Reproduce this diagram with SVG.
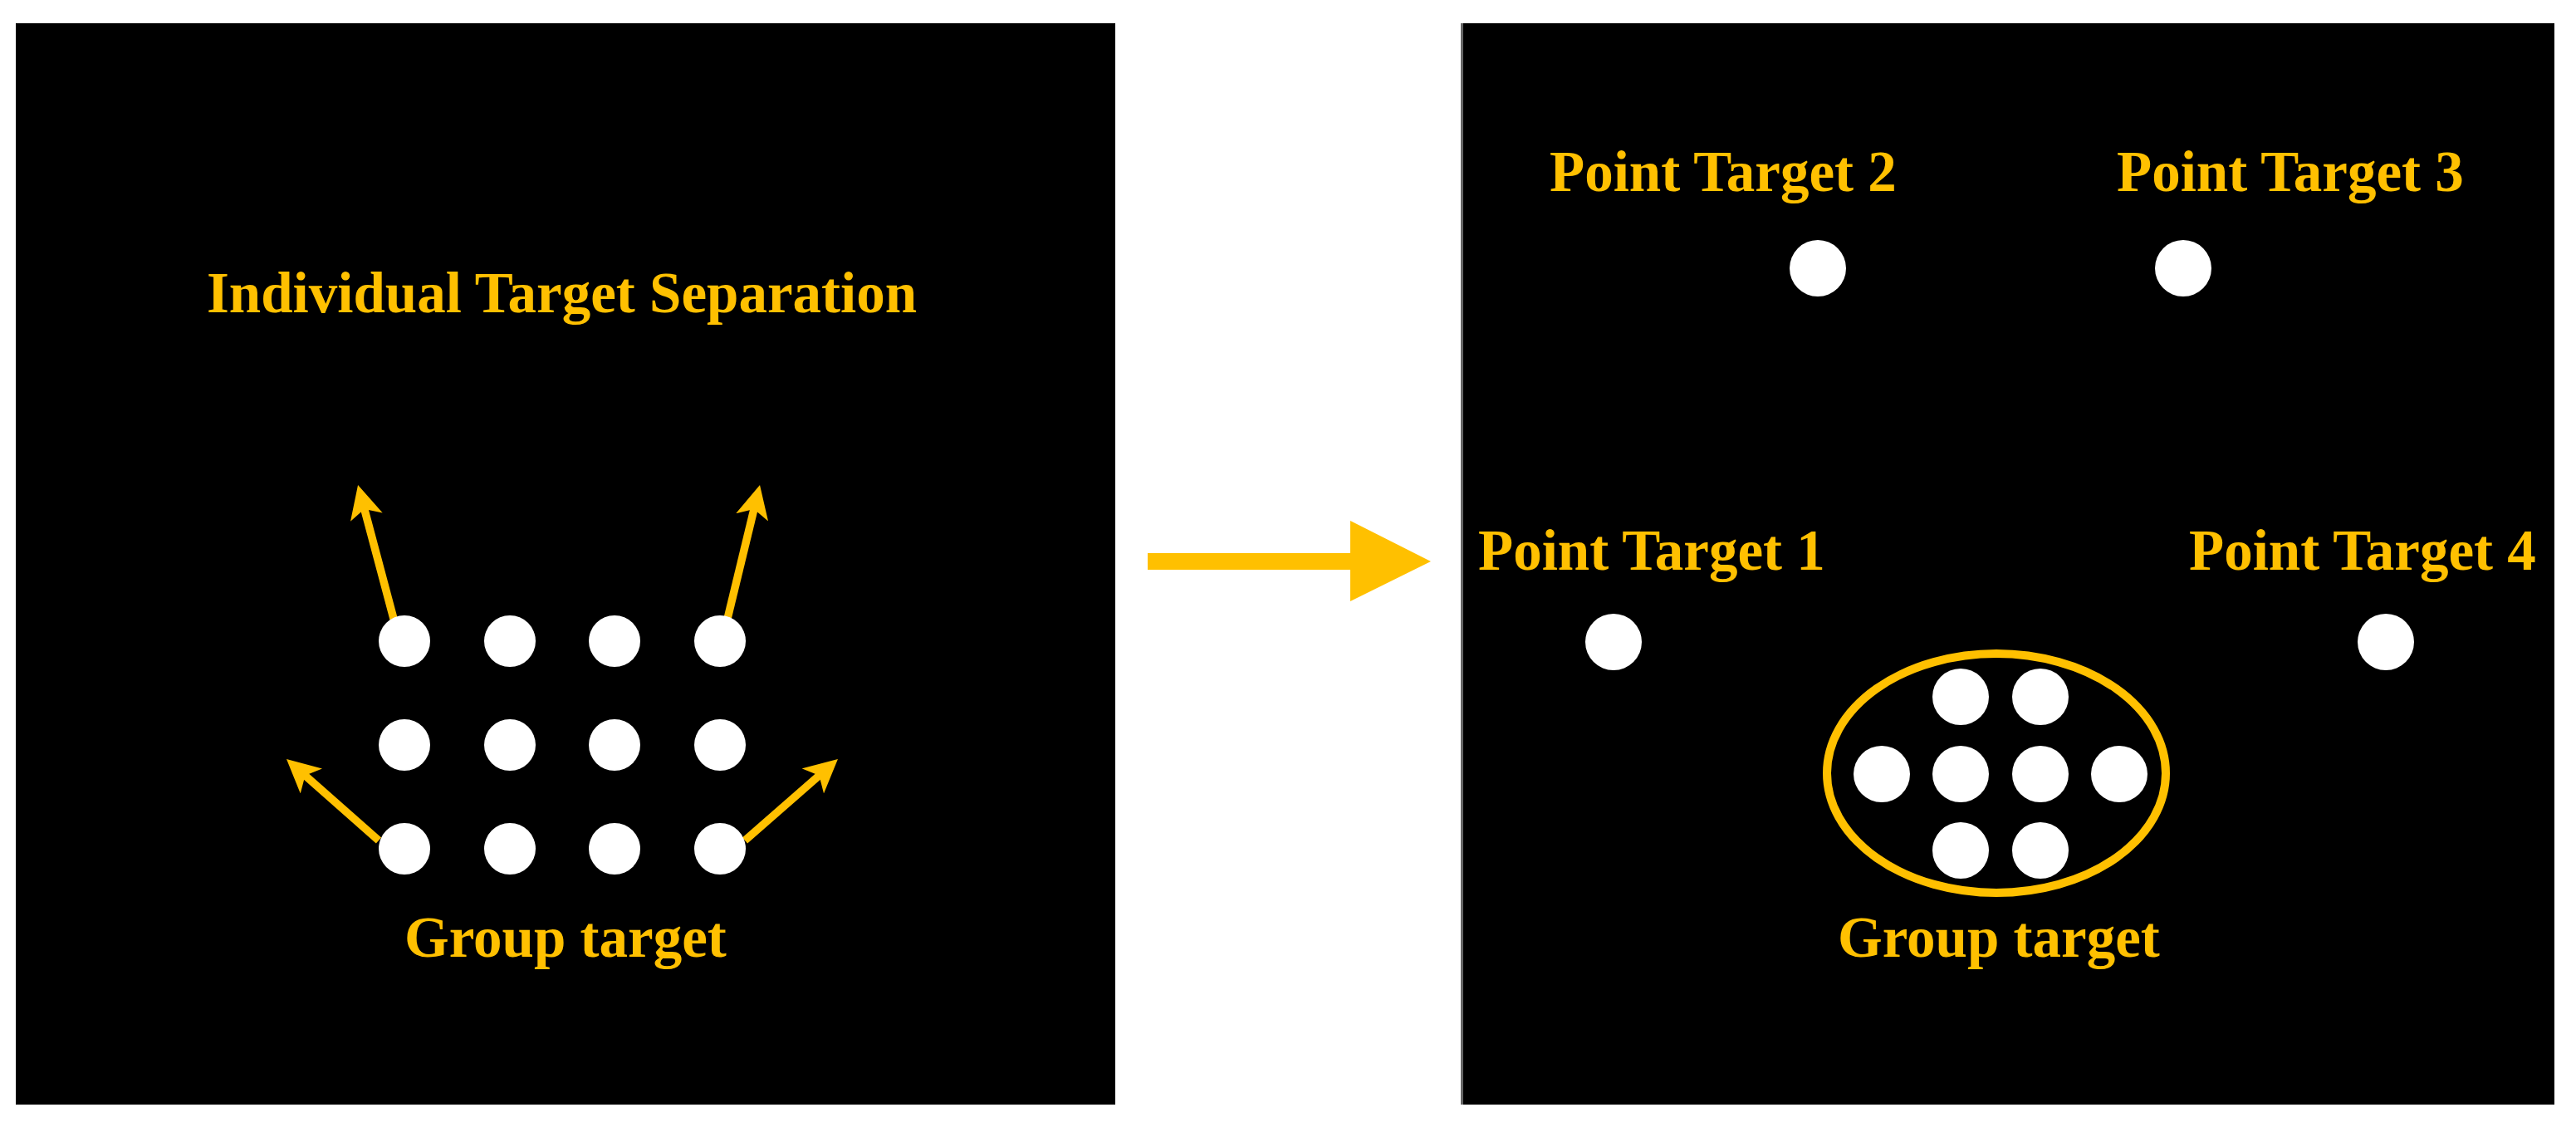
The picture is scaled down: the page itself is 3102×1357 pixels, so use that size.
<svg xmlns="http://www.w3.org/2000/svg" width="3102" height="1357" viewBox="0 0 3102 1357">
  <style>
    .panel { fill: #000000; }
    .dot { fill: #ffffff; }
    .lbl { font-family: "Liberation Serif", "Times New Roman", serif; font-weight: bold; font-size: 69px; fill: #FFC000; }
    .conn { stroke: #FFC000; stroke-width: 9.5; fill: none; }
  </style>
  <defs>
    <marker id="ah" markerUnits="userSpaceOnUse" viewBox="0 0 40 40" markerWidth="40" markerHeight="40" refX="20" refY="20" orient="auto">
      <path d="M0,0 L40,20 L0,40 L10,20 Z" fill="#FFC000"/>
    </marker>
  </defs>
  <rect width="3102" height="1357" fill="#ffffff"/>

  <g id="left-panel">
    <rect class="panel" x="19" y="28" width="1324" height="1302"/>
  </g>
  <g id="right-panel">
    <rect class="panel" x="1759" y="28" width="1317" height="1302"/>
    <line x1="1760.5" y1="28" x2="1760.5" y2="1330" stroke="#666" stroke-width="3"/>
  </g>

  <g id="connectors">
    <line class="conn" x1="474" y1="745" x2="436.2" y2="603.3" marker-end="url(#ah)"/>
    <line class="conn" x1="876" y1="745" x2="910.3" y2="603.4" marker-end="url(#ah)"/>
    <line class="conn" x1="456" y1="1012" x2="360" y2="927.2" marker-end="url(#ah)"/>
    <line class="conn" x1="897" y1="1012" x2="993.9" y2="927.2" marker-end="url(#ah)"/>
    <polygon id="transition-arrow" points="1382,666 1626,666 1626,627 1723,676 1626,724 1626,686 1382,686" fill="#FFC000"/>
  </g>

  <g id="left-title">
    <text class="lbl" x="249" y="376">Individual Target Separation</text>
  </g>
  <g id="left-group">
    <circle class="dot" cx="487" cy="772" r="31"/>
    <circle class="dot" cx="614" cy="772" r="31"/>
    <circle class="dot" cx="740" cy="772" r="31"/>
    <circle class="dot" cx="867" cy="772" r="31"/>
    <circle class="dot" cx="487" cy="897" r="31"/>
    <circle class="dot" cx="614" cy="897" r="31"/>
    <circle class="dot" cx="740" cy="897" r="31"/>
    <circle class="dot" cx="867" cy="897" r="31"/>
    <circle class="dot" cx="487" cy="1022" r="31"/>
    <circle class="dot" cx="614" cy="1022" r="31"/>
    <circle class="dot" cx="740" cy="1022" r="31"/>
    <circle class="dot" cx="867" cy="1022" r="31"/>
    <text class="lbl" x="487" y="1152">Group target</text>
  </g>

  <g id="point-target-1">
    <circle class="dot" cx="1943" cy="773" r="34"/>
    <text class="lbl" x="1780" y="686">Point Target 1</text>
  </g>
  <g id="point-target-2">
    <circle class="dot" cx="2189" cy="323" r="34"/>
    <text class="lbl" x="1866" y="230">Point Target 2</text>
  </g>
  <g id="point-target-3">
    <circle class="dot" cx="2629" cy="323" r="34"/>
    <text class="lbl" x="2549" y="230">Point Target 3</text>
  </g>
  <g id="point-target-4">
    <circle class="dot" cx="2873" cy="773" r="34"/>
    <text class="lbl" x="2636" y="686">Point Target 4</text>
  </g>
  <g id="right-group">
    <ellipse cx="2404" cy="931" rx="204" ry="144" fill="none" stroke="#FFC000" stroke-width="10"/>
    <circle class="dot" cx="2361" cy="839" r="34"/>
    <circle class="dot" cx="2457" cy="839" r="34"/>
    <circle class="dot" cx="2266" cy="932" r="34"/>
    <circle class="dot" cx="2361" cy="932" r="34"/>
    <circle class="dot" cx="2457" cy="932" r="34"/>
    <circle class="dot" cx="2552" cy="932" r="34"/>
    <circle class="dot" cx="2361" cy="1024" r="34"/>
    <circle class="dot" cx="2457" cy="1024" r="34"/>
    <text class="lbl" x="2213" y="1152">Group target</text>
  </g>
</svg>
